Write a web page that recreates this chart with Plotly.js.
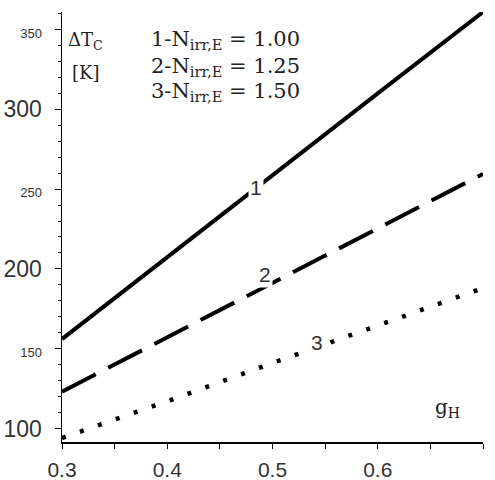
<!DOCTYPE html>
<html>
<head>
<meta charset="utf-8">
<script src="https://cdn.plot.ly/plotly-3.0.1.min.js"></script>
<style>html,body{margin:0;padding:0;background:#fff;}#chart{width:495px;height:480px;}</style>
</head>
<body>
<div id="chart"></div>
<script>
// ---- data ----
const gH = [0.3, 0.4, 0.5, 0.6, 0.7];
const dT_N100 = [156, 207.5, 259, 310, 361];
const dT_N125 = [123, 157, 191, 225.5, 259.5];
const dT_N150 = [94, 117, 141, 164.5, 188];
const curveNames = ['1', '2', '3'];
const legendLines = ['1-N<sub>irr,E</sub> = 1.00', '2-N<sub>irr,E</sub> = 1.25', '3-N<sub>irr,E</sub> = 1.50'];
const yTickVals = [100, 150, 200, 250, 300, 350];
const yTickText = ['100', '150', '200', '250', '300', '350'];
const yTickBig = [true, false, true, false, true, false];
const xTickVals = [0.3, 0.4, 0.5, 0.6, 0.7];
const xTickText = ['0.3', '0.4', '0.5', '0.6', '0.7'];

const traces = [
  {x: gH, y: dT_N100, mode: 'lines', line: {color: '#000', width: 4}, name: curveNames[0]},
  {x: gH, y: dT_N125, mode: 'lines', line: {color: '#000', width: 4, dash: '38px,14px'}, name: curveNames[1]},
  {x: gH, y: dT_N150, mode: 'lines', line: {color: '#000', width: 4.5, dash: '4px,15px'}, name: curveNames[2]}
];

const yText = yTickText.map((t, i) => yTickBig[i]
  ? '<span style="font-size:23px">' + t + '</span>'
  : '<span style="font-size:13px">' + t + '</span>');

const serif = 'DejaVu Serif, Liberation Serif, serif';
const annotations = [];
const legY = [0.935, 0.872, 0.813];
legendLines.forEach((t, i) => annotations.push({
  xref: 'paper', yref: 'paper', x: 0.207, y: legY[i], xanchor: 'left', yanchor: 'middle',
  text: t, showarrow: false, font: {family: serif, size: 21, color: '#222'}
}));
annotations.push({xref: 'paper', yref: 'paper', x: 0.055, y: 0.932, text: 'ΔT<sub>C</sub>', showarrow: false,
  xanchor: 'center', yanchor: 'middle', font: {family: serif, size: 18, color: '#222'}});
annotations.push({xref: 'paper', yref: 'paper', x: 0.057, y: 0.86, text: '[K]', showarrow: false,
  xanchor: 'center', yanchor: 'middle', font: {family: serif, size: 18, color: '#222'}});
annotations.push({xref: 'paper', yref: 'paper', x: 0.915, y: 0.08, text: 'g<sub>H</sub>', showarrow: false,
  xanchor: 'center', yanchor: 'middle', font: {family: serif, size: 20, color: '#222'}});
// curve number labels
const lblPos = [[0.4845, 250.8], [0.4924, 196.5], [0.5424, 153.7]];
curveNames.forEach((n, i) => annotations.push({
  x: lblPos[i][0], y: lblPos[i][1], text: n, showarrow: false, bgcolor: '#fff', borderpad: 1,
  font: {family: 'Liberation Sans, Arial, sans-serif', size: 21, color: '#333'}
}));

const layout = {
  width: 495, height: 480, autosize: false,
  margin: {l: 62, r: 12, t: 12, b: 38, pad: 0},
  paper_bgcolor: '#fff', plot_bgcolor: '#fff',
  showlegend: false,
  font: {family: 'Liberation Sans, Arial, sans-serif', color: '#333'},
  xaxis: {
    range: [0.3, 0.7], showgrid: false, zeroline: false, showline: true, linecolor: '#000', linewidth: 1.5,
    tickmode: 'array', tickvals: xTickVals, ticktext: xTickText, ticks: 'outside', ticklen: 5, tickcolor: '#000',
    tickfont: {size: 21, color: '#333'}, ticklabelstandoff: 3,
    minor: {tickmode: 'linear', tick0: 0.3, dtick: 0.05, ticks: 'outside', ticklen: 5, tickcolor: '#000'}
  },
  yaxis: {
    range: [91.5, 361], showgrid: false, zeroline: false, showline: true, linecolor: '#000', linewidth: 1.5,
    tickmode: 'array', tickvals: yTickVals, ticktext: yText, ticks: 'outside', ticklen: 6, tickcolor: '#000',
    tickfont: {size: 23, color: '#333'}, ticklabelstandoff: 8,
    minor: {tickmode: 'linear', tick0: 0, dtick: 10, ticks: 'outside', ticklen: 3, tickcolor: '#000'}
  },
  annotations: annotations
};

Plotly.newPlot('chart', traces, layout, {staticPlot: true, displayModeBar: false});
</script>
</body>
</html>
